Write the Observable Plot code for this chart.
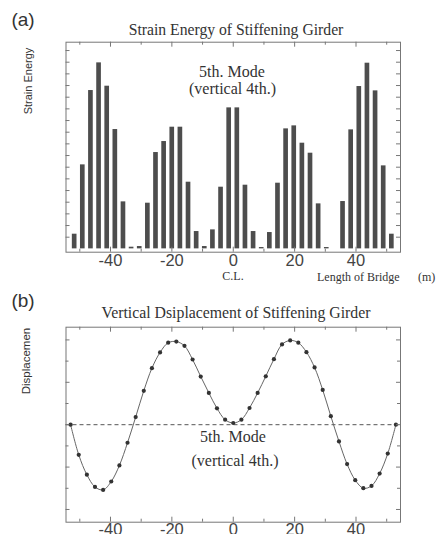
<!DOCTYPE html>
<html><head><meta charset="utf-8">
<script src="https://cdn.jsdelivr.net/npm/d3@7"></script>
<script src="https://cdn.jsdelivr.net/npm/@observablehq/plot@0.6"></script>
<style>
html,body{margin:0;padding:0;background:#fff;overflow:hidden;}
#fig{position:relative;width:445px;height:534px;overflow:hidden;background:#fff;}
.t{position:absolute;white-space:pre;line-height:1;color:#333;transform:translate(-50%,-50%);}
.l{position:absolute;white-space:pre;line-height:1;color:#333;transform:translate(0,-50%);}
.r{position:absolute;white-space:pre;line-height:1;color:#333;transform:translate(-50%,-50%) rotate(-90deg);}
.serif{font-family:"Liberation Serif","Times New Roman",serif;}
.sans{font-family:"Liberation Sans",Arial,sans-serif;}
.panel{position:absolute;left:0;}
</style></head><body><div id="fig"></div>
<script>
// element length along the bridge (m)
const spacing = 2.65;
// strain energy per girder element (40 elements, left to right)
const strainEnergy = [
  4.4, 25.2, 47.5, 55.8, 48.8, 35.8, 14.1, 0.5, 0.7, 13.7,
  28.9, 32.2, 36.5, 36.5, 20.0, 5.2, 0.7, 5.7, 18.5, 42.3,
  42.3, 19.1, 5.2, 0.4, 4.9, 19.7, 36.0, 36.9, 31.7, 28.7,
  13.5, 0.4, 0, 14.2, 35.7, 48.7, 55.7, 47.4, 24.9, 4.4
];
// vertical displacement at the 41 nodes (left to right)
const displacement = [
  0, -0.355, -0.59, -0.734, -0.769, -0.67, -0.48, -0.213, 0.09, 0.40,
  0.667, 0.852, 0.967, 0.98, 0.93, 0.769, 0.568, 0.375, 0.193, 0.059,
  0.02, 0.059, 0.197, 0.375, 0.571, 0.773, 0.947, 0.994, 0.967, 0.856,
  0.675, 0.41, 0.10, -0.197, -0.465, -0.654, -0.749, -0.722, -0.576, -0.34,
  0
];
const xTickLabels = [-40, -20, 0, 20, 40];
const xMinorTicks = [-50, -30, -10, 10, 30, 50];
const strainTicks = d3.range(1, 18).map(i => i * 3.5);
const dispMajorTicks = [-1, -0.5, 0, 0.5, 1];
const dispMinorTicks = [-0.75, -0.25, 0.25, 0.75];

const bars = strainEnergy.map((v, i) => ({x: (i - 19.5) * spacing, v}));
const nodes = displacement.map((v, k) => ({x: (k - 20) * spacing, v}));

const W = 445, mL = 65.5, mR = 45;
const frameW = W - mL - mR;
const frameCol = "#777";
const fmt = d => (d < 0 ? "-" + Math.abs(d) : String(d));

function frameTicks(frameH, yMajor, yMinor) {
  const m = [];
  const tx = (arr, len) => {
    m.push(Plot.ruleX(arr, {x: d => d, insetBottom: frameH - len, stroke: frameCol}));
    m.push(Plot.ruleX(arr, {x: d => d, insetTop: frameH - len, stroke: frameCol}));
  };
  const ty = (arr, len) => {
    m.push(Plot.ruleY(arr, {y: d => d, insetRight: frameW - len, stroke: frameCol}));
    m.push(Plot.ruleY(arr, {y: d => d, insetLeft: frameW - len, stroke: frameCol}));
  };
  tx(xTickLabels, 5); tx(xMinorTicks, 3);
  ty(yMajor, 4); if (yMinor) ty(yMinor, 3);
  return m;
}

const fig = document.getElementById("fig");

// Panel (a)
const hA = 280, mTA = 41.7, mBA = 28.3;
const plotA = Plot.plot({
  width: W, height: hA, marginLeft: mL, marginRight: mR, marginTop: mTA, marginBottom: mBA,
  x: {domain: [-54.5, 54.5], axis: null},
  y: {domain: [-1, 62], axis: null},
  style: {background: "transparent", overflow: "visible"},
  marks: [
    Plot.rectY(bars, {x1: d => d.x - 0.76, x2: d => d.x + 0.76, y1: 0, y2: "v", fill: "#4d4d4d"}),
    Plot.frame({stroke: frameCol}),
    ...frameTicks(hA - mTA - mBA, strainTicks, null),
    Plot.axisX(xTickLabels, {anchor: "bottom", label: null, tickSize: 0, tickPadding: 2.5, fontSize: 16.5,
      fontFamily: "Liberation Sans, Arial, sans-serif", fill: "#444", tickFormat: fmt})
  ]
});
plotA.classList.add("panel");
plotA.style.top = "0px";
fig.appendChild(plotA);

// Panel (b)
const topB = 280, hB = 260, mTB = 46.7, mBB = 18.3;
const plotB = Plot.plot({
  width: W, height: hB, marginLeft: mL, marginRight: mR, marginTop: mTB, marginBottom: mBB,
  x: {domain: [-54.5, 54.5], axis: null},
  y: {domain: [-1.15, 1.15], axis: null},
  style: {background: "transparent", overflow: "visible"},
  marks: [
    Plot.ruleY([0], {stroke: "#555", strokeDasharray: "4,3"}),
    Plot.line(nodes, {x: "x", y: "v", curve: "catmull-rom", stroke: "#666", strokeWidth: 1}),
    Plot.dot(nodes, {x: "x", y: "v", r: 2.1, fill: "#333", stroke: "none"}),
    Plot.frame({stroke: frameCol}),
    ...frameTicks(hB - mTB - mBB, dispMajorTicks, dispMinorTicks),
    Plot.axisX(xTickLabels, {anchor: "bottom", label: null, tickSize: 0, tickPadding: 1, fontSize: 16.5,
      fontFamily: "Liberation Sans, Arial, sans-serif", fill: "#444", tickFormat: fmt})
  ]
});
plotB.classList.add("panel");
plotB.style.top = topB + "px";
fig.appendChild(plotB);

// text annotations
const texts = [
  {c: "t sans", s: 19, x: 23, y: 19, txt: "(a)"},
  {c: "t serif", s: 15.7, x: 236, y: 29.5, txt: "Strain Energy of Stiffening Girder"},
  {c: "r sans", s: 11, x: 28, y: 81, txt: "Strain Energy"},
  {c: "t serif", s: 16, x: 232, y: 72, txt: "5th. Mode"},
  {c: "t serif", s: 16, x: 232.5, y: 88.5, txt: "(vertical 4th.)"},
  {c: "t serif", s: 12, x: 233, y: 275.5, txt: "C.L."},
  {c: "l serif", s: 12, x: 317, y: 277, txt: "Length of Bridge"},
  {c: "l serif", s: 12, x: 418, y: 277, txt: "(m)"},
  {c: "t sans", s: 19, x: 23, y: 300, txt: "(b)"},
  {c: "t serif", s: 15.8, x: 236, y: 312.5, txt: "Vertical Dsiplacement of Stiffening Girder"},
  {c: "r sans", s: 11.5, x: 27, y: 361, txt: "Displacemen"},
  {c: "t serif", s: 16, x: 233, y: 437, txt: "5th. Mode"},
  {c: "t serif", s: 16, x: 235, y: 460.5, txt: "(vertical 4th.)"}
];
for (const t of texts) {
  const d = document.createElement("div");
  d.className = t.c;
  d.style.fontSize = t.s + "px";
  d.style.left = t.x + "px";
  d.style.top = t.y + "px";
  d.textContent = t.txt;
  fig.appendChild(d);
}
</script>
</body></html>
